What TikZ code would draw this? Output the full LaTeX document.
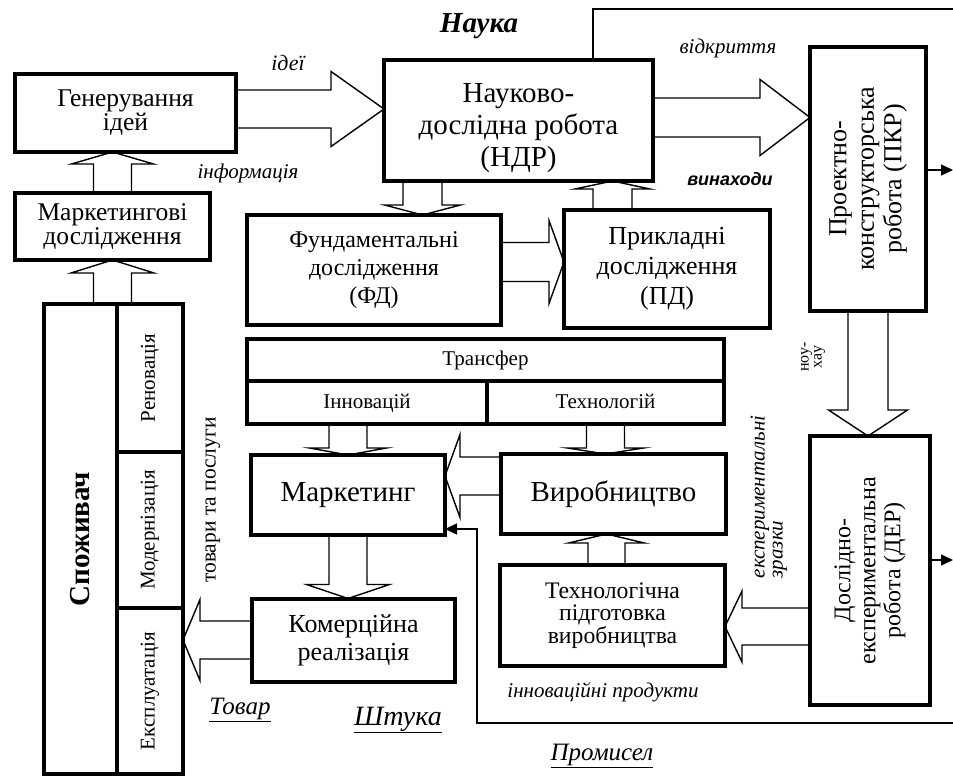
\documentclass[tikz,border=0pt]{standalone}
\usepackage{fontspec}
\setmainfont{Liberation Serif}
\newfontfamily\arialfont{Liberation Sans}
\usepackage{tikz}
\usetikzlibrary{arrows.meta,positioning,calc}

\newcommand{\fsz}[2]{\fontsize{#1pt}{#2pt}\selectfont}
% hollow block arrow: start, tip, half shaft, half head, head length
\newcommand{\blockarr}[5]{%
  \coordinate (ba-s) at #1;
  \coordinate (ba-t) at #2;
  \coordinate (ba-b) at ($(ba-t)!#5!(ba-s)$);
  \draw[barr] ($(ba-s)!#3!90:(ba-t)$) -- ($(ba-b)!#3!-90:(ba-s)$)
    -- ($(ba-b)!#4!-90:(ba-s)$) -- (ba-t) -- ($(ba-b)!#4!90:(ba-s)$)
    -- ($(ba-b)!#3!90:(ba-s)$) -- ($(ba-s)!#3!-90:(ba-t)$);
}

\begin{document}
\begin{tikzpicture}[x=1pt,y=-1pt,
  box/.style={draw,line width=4pt,inner sep=0pt,outer sep=0pt,align=center},
  cell/.style={box,font=\fsz{21}{22},text height=15pt,text depth=4pt},
  barr/.style={line width=1.4pt,line join=miter,miter limit=20},
  line/.style={line width=1.4pt},
  tip/.style={line width=1.4pt,-{Triangle[length=12pt,width=11pt]}},
  lbl/.style={font=\fsz{21}{22}\itshape},
  vlbl/.style={rotate=90,font=\fsz{21}{22}}
]
\useasboundingbox (0,0) rectangle (953,778);

\node[font=\fsz{29}{30}\bfseries\itshape] (nauka) at (479,26) {Наука};

% science
\node[box,minimum width=221pt,minimum height=78pt,font=\fsz{25.5}{21}] (gen) at (125.5,113) {Генерування\\ідей};
\node[box,minimum width=195pt,minimum height=67pt,font=\fsz{25.5}{21}] (mr) at (112.5,226.5) {Маркетингові\\дослідження};
\node[box,minimum width=269pt,minimum height=121pt,
  label={[yshift=-8pt,font=\fsz{29}{32},align=center]center:Науково-\\дослідна робота\\(НДР)}] (ndr) at (518.5,120.5) {};
\node[box,minimum width=116pt,minimum height=264pt,
  label={[rotate=90,font=\fsz{26}{27.5},align=center]center:Проектно-\\конструкторська\\робота (ПКР)}] (pkr) at (868,179) {};
\node[box,minimum width=254pt,minimum height=110pt,font=\fsz{24}{28}] (fd) at (374,270) {Фундаментальні\\дослідження\\(ФД)};
\node[box,minimum width=206pt,minimum height=118pt,font=\fsz{26}{30}] (pd) at (667,269) {Прикладні\\дослідження\\(ПД)};

% transfer
\node[cell,minimum width=477pt,minimum height=42pt] (trans) at (485.5,360) {Трансфер};
\node[cell,anchor=north west,minimum width=240pt,minimum height=43pt] (inn) at (trans.south west) {Інновацій};
\node[cell,anchor=north west,minimum width=237pt,minimum height=43pt] (tech) at (inn.north east) {Технологій};

% production
\node[box,minimum width=194pt,minimum height=80pt,font=\fsz{29}{30}] (mark) at (348,495) {Маркетинг};
\node[box,minimum width=225pt,minimum height=80pt,font=\fsz{29}{30}] (vyr) at (613.5,494) {Виробництво};
\node[box,minimum width=225pt,minimum height=101pt,font=\fsz{23.7}{22.5}] (tpv) at (612.5,615.5) {Технологічна\\підготовка\\виробництва};
\node[box,minimum width=203pt,minimum height=83pt,font=\fsz{26}{28}] (kom) at (353.5,640) {Комерційна\\реалізація};
\node[box,minimum width=120pt,minimum height=269pt,
  label={[rotate=90,font=\fsz{24}{25},align=center]center:Дослідно-\\експериментальна\\робота (ДЕР)}] (der) at (870,570.5) {};

% consumer
\node[box,minimum width=73pt,minimum height=470pt,
  label={[rotate=90,font=\fsz{29}{30}\bfseries]center:Споживач}] (cons) at (80.5,539) {};
\node[box,anchor=north west,minimum width=66pt,minimum height=148pt,
  label={[vlbl]center:Реновація}] (ren) at (cons.north east) {};
\node[box,anchor=north,minimum width=66pt,minimum height=156pt,
  label={[vlbl]center:Модернізація}] (mod) at (ren.south) {};
\node[box,anchor=north,minimum width=66pt,minimum height=166pt,
  label={[vlbl]center:Експлуатація}] (exp) at (mod.south) {};

% labels
\node[font=\fsz{22}{22}\itshape] (ideas) at (288,63) {ідеї};
\node[lbl] (info) at (248,173) {інформація};
\node[lbl] (disco) at (728,48) {відкриття};
\node[font=\fsz{18}{20}\arialfont\bfseries\itshape] (inv) at (730,179) {винаходи};
\node[rotate=90,font=\fsz{16}{13},align=center] (know) at (813,357) {ноу-\\хау};
\node[rotate=90,font=\fsz{21}{18}\itshape,align=left] (samples) at (769,497) {експериментальні\\зразки};
\node[vlbl,font=\fsz{21.5}{22}] (goods) at (213,500) {товари та послуги};
\node[font=\fsz{25}{26}\itshape] (tovar) at (240,710) {\underline{Товар}};
\node[font=\fsz{28}{28}\itshape] (shtuka) at (398,720) {\underline{Штука}};
\node[lbl] (innprod) at (603,692) {інноваційні продукти};
\node[font=\fsz{25}{26}\itshape] (promysel) at (602,756) {\underline{Промисел}};

% block arrows
\blockarr{(mr.north)}{(gen.south -| mr.north)}{19pt}{41pt}{12pt}
\blockarr{(mr.south |- cons.north)}{(mr.south)}{19pt}{41.5pt}{13pt}
\coordinate (idea) at ([yshift=4pt]gen.east);
\blockarr{(idea)}{(idea -| ndr.west)}{19pt}{37.5pt}{53pt}
\coordinate (disc) at ([yshift=3pt]ndr.east);
\blockarr{(disc)}{(disc -| pkr.west)}{19.5pt}{38pt}{50pt}
\coordinate (fdin) at ([xshift=-96pt]ndr.south);
\blockarr{(fdin)}{(fdin |- fd.north)}{19.5pt}{38pt}{10pt}
\coordinate (pdout) at ([xshift=-54.5pt]pd.north);
\blockarr{(pdout)}{(pdout |- ndr.south)}{19.5pt}{37.5pt}{8pt}
\coordinate (fdout) at ([yshift=8pt]fd.east);
\blockarr{(fdout)}{(fdout -| pd.west)}{19.5pt}{41.5pt}{15pt}
\blockarr{(mark.north |- inn.south)}{(mark.north)}{19pt}{38.5pt}{7pt}
\blockarr{(tech.south)}{(tech.south |- vyr.north)}{19pt}{38pt}{6pt}
\coordinate (vyrout) at ([yshift=18pt]vyr.west);
\blockarr{(vyrout)}{(vyrout -| mark.east)}{19pt}{41.5pt}{15pt}
\coordinate (tpvout) at ([xshift=-6pt]tpv.north);
\blockarr{(tpvout)}{(tpvout |- vyr.south)}{18.5pt}{38pt}{9pt}
\blockarr{(mark.south)}{(mark.south |- kom.north)}{19pt}{41.5pt}{14pt}
\blockarr{(kom.west)}{(kom.west -| exp.east)}{19pt}{40.5pt}{17pt}
\blockarr{(pkr.south)}{(pkr.south |- der.north)}{20pt}{39.5pt}{26pt}
\coordinate (derout) at ([yshift=-56pt]der.west);
\blockarr{(derout)}{(derout -| tpv.east)}{18.5pt}{35.5pt}{17pt}

% thin lines
\coordinate (sci-out) at (953,9);
\draw[line] ([xshift=74.5pt]ndr.north) |- (sci-out);
\coordinate (pkr-out) at (953,170);
\draw[tip] ([yshift=9pt]pkr.east) -- (pkr-out);
\coordinate (der-out) at (953,560);
\draw[tip] ([yshift=10.5pt]der.east) -- (der-out);
\coordinate (prom-in) at (953,723);
\coordinate (prom-turn) at (477,723);
\draw[tip] (prom-in) -- (prom-turn) |- ([yshift=-34pt]mark.east);
\end{tikzpicture}
\end{document}
